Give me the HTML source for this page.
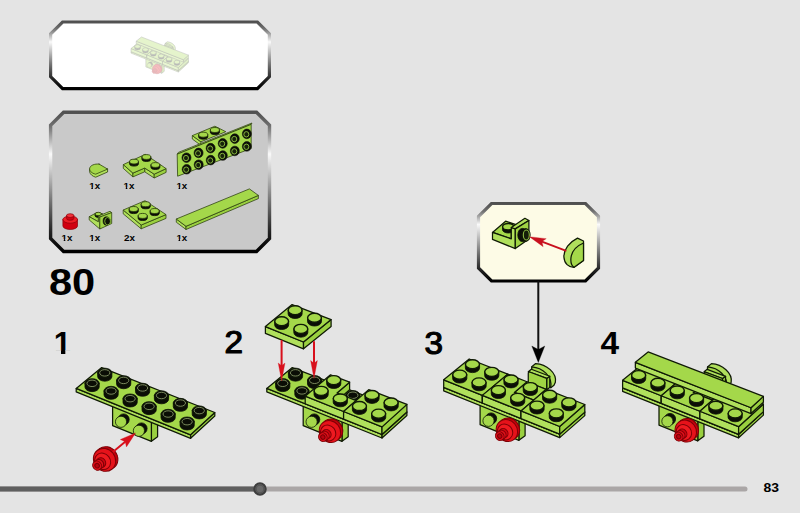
<!DOCTYPE html>
<html><head><meta charset="utf-8"><title>80</title>
<style>html,body{margin:0;padding:0;background:#e4e4e4;overflow:hidden}svg{display:block}text{font-family:"Liberation Sans",sans-serif}</style>
</head><body>
<svg width="800" height="513" viewBox="0 0 800 513">
<rect x="0" y="0" width="800" height="513" fill="#e4e4e4"/>
<linearGradient id="fg1" gradientUnits="userSpaceOnUse" x1="0" y1="22" x2="0" y2="88.6"><stop offset="0" stop-color="#505050"/><stop offset="0.10" stop-color="#707070"/><stop offset="0.3" stop-color="#fafafa"/><stop offset="0.62" stop-color="#7a7a7a"/><stop offset="0.86" stop-color="#222"/><stop offset="1" stop-color="#000"/></linearGradient>
<polygon points="62.6,22 257.4,22 269.4,34 269.4,76.6 257.4,88.6 62.6,88.6 50.6,76.6 50.6,34" fill="#ffffff" stroke="url(#fg1)" stroke-width="3.2" stroke-linejoin="miter"/>
<linearGradient id="fg2" gradientUnits="userSpaceOnUse" x1="0" y1="112.3" x2="0" y2="251.5"><stop offset="0" stop-color="#505050"/><stop offset="0.10" stop-color="#707070"/><stop offset="0.3" stop-color="#fafafa"/><stop offset="0.62" stop-color="#7a7a7a"/><stop offset="0.86" stop-color="#222"/><stop offset="1" stop-color="#000"/></linearGradient>
<polygon points="63.6,112.3 256.5,112.3 269.5,125.3 269.5,238.5 256.5,251.5 63.6,251.5 50.6,238.5 50.6,125.3" fill="#c9c9c9" stroke="url(#fg2)" stroke-width="3.4" stroke-linejoin="miter"/>
<linearGradient id="fg3" gradientUnits="userSpaceOnUse" x1="0" y1="203.5" x2="0" y2="281"><stop offset="0" stop-color="#505050"/><stop offset="0.10" stop-color="#707070"/><stop offset="0.27" stop-color="#fafafa"/><stop offset="0.62" stop-color="#7a7a7a"/><stop offset="0.86" stop-color="#222"/><stop offset="1" stop-color="#000"/></linearGradient>
<polygon points="491.5,203.5 585.5,203.5 598.5,216.5 598.5,268 585.5,281 491.5,281 478.5,268 478.5,216.5" fill="#fdfbe6" stroke="url(#fg3)" stroke-width="3.2" stroke-linejoin="miter"/>
<text transform="translate(49 295.3) scale(1.13 1)" font-size="36.8" font-weight="bold" text-anchor="start" fill="#000">80</text>
<clipPath id="c1_1"><polygon points="51.8,322.9 178.6,322.9 178.6,363.46 71.15,363.46 71.15,350.22 65.34,350.22 65.34,355.1 60.98,355.1 60.98,350.22 51.8,350.22"/></clipPath>
<g clip-path="url(#c1_1)">
<text transform="translate(53.8 354.1) scale(1 1)" font-size="31.2" font-weight="bold" text-anchor="start" fill="#000">1</text>
</g>
<text transform="translate(224.4 353.3) scale(1.08 1)" font-size="30.8" font-weight="normal" text-anchor="start" fill="#000" stroke="#000" stroke-width="1.15" stroke-linejoin="round">2</text>
<text transform="translate(424.6 353.5) scale(1.08 1)" font-size="30.8" font-weight="normal" text-anchor="start" fill="#000" stroke="#000" stroke-width="1.15" stroke-linejoin="round">3</text>
<text transform="translate(600.4 354) scale(1.07 1)" font-size="31.2" font-weight="bold" text-anchor="start" fill="#000">4</text>
<text transform="translate(763.4 491.9) scale(1.04 1)" font-size="13.4" font-weight="bold" text-anchor="start" fill="#000">83</text>
<line x1="-3" y1="489" x2="745" y2="489" stroke="#aaa6a6" stroke-width="5" stroke-linecap="round"/>
<line x1="-3" y1="489" x2="258" y2="489" stroke="#5f5f5f" stroke-width="5"/>
<circle cx="260" cy="489" r="5.7" fill="#666" stroke="#3e3e3e" stroke-width="2.1"/>
<circle cx="260" cy="489" r="3.9" fill="#696969" stroke="#4a4a4a" stroke-width="0.7"/>
<polygon points="151.4,419 157.6,414.5 157.6,436.7 151.4,441.3" fill="#9ad040" stroke="#101a06" stroke-width="1.25" stroke-linejoin="round" />
<polygon points="112.6,403 112.6,425.7 151.4,441.3 151.4,419" fill="#a4d84a" stroke="#101a06" stroke-width="1.25" stroke-linejoin="round" />
<circle cx="123.6" cy="419.5" r="5.6" fill="#0b0e06" stroke="#0b0e06" stroke-width="0.8"/>
<circle cx="121" cy="421.8" r="5.6" fill="#a4d84a" stroke="#101a06" stroke-width="0.8"/>
<circle cx="141.5" cy="428.5" r="5.6" fill="#0b0e06" stroke="#0b0e06" stroke-width="0.8"/>
<circle cx="138.9" cy="430.8" r="5.6" fill="#a4d84a" stroke="#101a06" stroke-width="0.8"/>
<polygon points="76.2,388.4 190.6,434.8 190.6,438.3 76.2,391.9" fill="#aee05a" stroke="#101a06" stroke-width="1.25" stroke-linejoin="round" />
<polygon points="214.8,412.5 190.6,434.8 190.6,438.3 214.8,416" fill="#9ad040" stroke="#101a06" stroke-width="1.25" stroke-linejoin="round" />
<polygon points="101.7,367.6 214.8,412.5 190.6,434.8 76.2,388.4" fill="#a4d84a" stroke="#101a06" stroke-width="1.25" stroke-linejoin="round" />
<path d="M97.68,372.77 L97.68,376.57 A7.1,4.6 0 0 0 111.88,376.57 L111.88,372.77 Z" fill="#0b0e06" stroke="#0b0e06" stroke-width="0.8" stroke-linejoin="round" stroke-linecap="round" />
<ellipse cx="104.78" cy="372.77" rx="7.1" ry="4.6" fill="#0b0e06" stroke="#101a06" stroke-width="0.8" />
<ellipse cx="104.78" cy="372.87" rx="5.11" ry="3.22" fill="#0a0d05" stroke="#8e9f6c" stroke-width="0.85" />
<path d="M116.58,380.32 L116.58,384.12 A7.1,4.6 0 0 0 130.78,384.12 L130.78,380.32 Z" fill="#0b0e06" stroke="#0b0e06" stroke-width="0.8" stroke-linejoin="round" stroke-linecap="round" />
<ellipse cx="123.68" cy="380.32" rx="7.1" ry="4.6" fill="#0b0e06" stroke="#101a06" stroke-width="0.8" />
<ellipse cx="123.68" cy="380.42" rx="5.11" ry="3.22" fill="#0a0d05" stroke="#8e9f6c" stroke-width="0.85" />
<path d="M135.49,387.86 L135.49,391.66 A7.1,4.6 0 0 0 149.69,391.66 L149.69,387.86 Z" fill="#0b0e06" stroke="#0b0e06" stroke-width="0.8" stroke-linejoin="round" stroke-linecap="round" />
<ellipse cx="142.59" cy="387.86" rx="7.1" ry="4.6" fill="#0b0e06" stroke="#101a06" stroke-width="0.8" />
<ellipse cx="142.59" cy="387.96" rx="5.11" ry="3.22" fill="#0a0d05" stroke="#8e9f6c" stroke-width="0.85" />
<path d="M154.39,395.41 L154.39,399.21 A7.1,4.6 0 0 0 168.59,399.21 L168.59,395.41 Z" fill="#0b0e06" stroke="#0b0e06" stroke-width="0.8" stroke-linejoin="round" stroke-linecap="round" />
<ellipse cx="161.49" cy="395.41" rx="7.1" ry="4.6" fill="#0b0e06" stroke="#101a06" stroke-width="0.8" />
<ellipse cx="161.49" cy="395.51" rx="5.11" ry="3.22" fill="#0a0d05" stroke="#8e9f6c" stroke-width="0.85" />
<path d="M173.29,402.96 L173.29,406.76 A7.1,4.6 0 0 0 187.49,406.76 L187.49,402.96 Z" fill="#0b0e06" stroke="#0b0e06" stroke-width="0.8" stroke-linejoin="round" stroke-linecap="round" />
<ellipse cx="180.39" cy="402.96" rx="7.1" ry="4.6" fill="#0b0e06" stroke="#101a06" stroke-width="0.8" />
<ellipse cx="180.39" cy="403.06" rx="5.11" ry="3.22" fill="#0a0d05" stroke="#8e9f6c" stroke-width="0.85" />
<path d="M192.2,410.5 L192.2,414.3 A7.1,4.6 0 0 0 206.4,414.3 L206.4,410.5 Z" fill="#0b0e06" stroke="#0b0e06" stroke-width="0.8" stroke-linejoin="round" stroke-linecap="round" />
<ellipse cx="199.3" cy="410.5" rx="7.1" ry="4.6" fill="#0b0e06" stroke="#101a06" stroke-width="0.8" />
<ellipse cx="199.3" cy="410.6" rx="5.11" ry="3.22" fill="#0a0d05" stroke="#8e9f6c" stroke-width="0.85" />
<path d="M84.98,383.24 L84.98,387.04 A7.1,4.6 0 0 0 99.18,387.04 L99.18,383.24 Z" fill="#0b0e06" stroke="#0b0e06" stroke-width="0.8" stroke-linejoin="round" stroke-linecap="round" />
<ellipse cx="92.08" cy="383.24" rx="7.1" ry="4.6" fill="#0b0e06" stroke="#101a06" stroke-width="0.8" />
<ellipse cx="92.08" cy="383.34" rx="5.11" ry="3.22" fill="#0a0d05" stroke="#8e9f6c" stroke-width="0.85" />
<path d="M103.99,390.91 L103.99,394.71 A7.1,4.6 0 0 0 118.19,394.71 L118.19,390.91 Z" fill="#0b0e06" stroke="#0b0e06" stroke-width="0.8" stroke-linejoin="round" stroke-linecap="round" />
<ellipse cx="111.09" cy="390.91" rx="7.1" ry="4.6" fill="#0b0e06" stroke="#101a06" stroke-width="0.8" />
<ellipse cx="111.09" cy="391.01" rx="5.11" ry="3.22" fill="#0a0d05" stroke="#8e9f6c" stroke-width="0.85" />
<path d="M123.01,398.58 L123.01,402.38 A7.1,4.6 0 0 0 137.21,402.38 L137.21,398.58 Z" fill="#0b0e06" stroke="#0b0e06" stroke-width="0.8" stroke-linejoin="round" stroke-linecap="round" />
<ellipse cx="130.11" cy="398.58" rx="7.1" ry="4.6" fill="#0b0e06" stroke="#101a06" stroke-width="0.8" />
<ellipse cx="130.11" cy="398.68" rx="5.11" ry="3.22" fill="#0a0d05" stroke="#8e9f6c" stroke-width="0.85" />
<path d="M142.02,406.25 L142.02,410.05 A7.1,4.6 0 0 0 156.22,410.05 L156.22,406.25 Z" fill="#0b0e06" stroke="#0b0e06" stroke-width="0.8" stroke-linejoin="round" stroke-linecap="round" />
<ellipse cx="149.12" cy="406.25" rx="7.1" ry="4.6" fill="#0b0e06" stroke="#101a06" stroke-width="0.8" />
<ellipse cx="149.12" cy="406.35" rx="5.11" ry="3.22" fill="#0a0d05" stroke="#8e9f6c" stroke-width="0.85" />
<path d="M161.03,413.92 L161.03,417.72 A7.1,4.6 0 0 0 175.23,417.72 L175.23,413.92 Z" fill="#0b0e06" stroke="#0b0e06" stroke-width="0.8" stroke-linejoin="round" stroke-linecap="round" />
<ellipse cx="168.13" cy="413.92" rx="7.1" ry="4.6" fill="#0b0e06" stroke="#101a06" stroke-width="0.8" />
<ellipse cx="168.13" cy="414.02" rx="5.11" ry="3.22" fill="#0a0d05" stroke="#8e9f6c" stroke-width="0.85" />
<path d="M180.04,421.59 L180.04,425.39 A7.1,4.6 0 0 0 194.24,425.39 L194.24,421.59 Z" fill="#0b0e06" stroke="#0b0e06" stroke-width="0.8" stroke-linejoin="round" stroke-linecap="round" />
<ellipse cx="187.14" cy="421.59" rx="7.1" ry="4.6" fill="#0b0e06" stroke="#101a06" stroke-width="0.8" />
<ellipse cx="187.14" cy="421.69" rx="5.11" ry="3.22" fill="#0a0d05" stroke="#8e9f6c" stroke-width="0.85" />
<g stroke="#7d0006" stroke-width="1.0" stroke-linejoin="round">
<ellipse cx="106.73" cy="458.14" rx="10.71" ry="11.9" fill="#c4000c" transform="rotate(-38 106.73 458.14)"/>
<ellipse cx="104.53" cy="459.87" rx="10.71" ry="11.9" fill="#e6121a" transform="rotate(-38 104.53 459.87)"/>
<ellipse cx="102.64" cy="461.35" rx="7.71" ry="8.57" fill="#ee1a20" transform="rotate(-38 102.64 461.35)"/>
<ellipse cx="101.06" cy="462.58" rx="4.5" ry="5" fill="#cf0510" transform="rotate(-38 101.06 462.58)"/>
<ellipse cx="99.1" cy="464.12" rx="4.39" ry="4.88" fill="#e0101a" transform="rotate(-38 99.1 464.12)"/>
<ellipse cx="97.13" cy="465.66" rx="4.28" ry="4.76" fill="#dd0d18" transform="rotate(-38 97.13 465.66)"/>
<ellipse cx="97.13" cy="465.66" rx="2.14" ry="2.38" fill="#b80410" transform="rotate(-38 97.13 465.66)"/>
</g>
<line x1="113.5" y1="451.5" x2="125.19" y2="441.66" stroke="#d8101c" stroke-width="1.9" stroke-linecap="round" />
<polygon points="135.6,432.9 126.45,446.88 125.19,441.66 120.27,439.53" fill="#d8101c" stroke="#d8101c" stroke-width="0.3" stroke-linejoin="round" />
<polygon points="342,419 348.2,414.5 348.2,436.7 342,441.3" fill="#9ad040" stroke="#101a06" stroke-width="1.25" stroke-linejoin="round" />
<polygon points="303.2,403 303.2,425.7 342,441.3 342,419" fill="#a4d84a" stroke="#101a06" stroke-width="1.25" stroke-linejoin="round" />
<circle cx="314.2" cy="419.5" r="5.6" fill="#0b0e06" stroke="#0b0e06" stroke-width="0.8"/>
<circle cx="311.6" cy="421.8" r="5.6" fill="#a4d84a" stroke="#101a06" stroke-width="0.8"/>
<polygon points="266.8,388.4 382,434.5 382,438 266.8,391.9" fill="#b0e05c" stroke="#101a06" stroke-width="1.25" stroke-linejoin="round" />
<polygon points="406.9,412 382,434.5 382,438 406.9,415.5" fill="#9ad040" stroke="#101a06" stroke-width="1.25" stroke-linejoin="round" />
<polygon points="292.3,367.6 406.9,412 382,434.5 266.8,388.4" fill="#a4d84a" stroke="#101a06" stroke-width="1.25" stroke-linejoin="round" />
<path d="M288.39,372.74 L288.39,376.54 A7.1,4.6 0 0 0 302.59,376.54 L302.59,372.74 Z" fill="#0b0e06" stroke="#0b0e06" stroke-width="0.8" stroke-linejoin="round" stroke-linecap="round" />
<ellipse cx="295.49" cy="372.74" rx="7.1" ry="4.6" fill="#0b0e06" stroke="#101a06" stroke-width="0.8" />
<ellipse cx="295.49" cy="372.84" rx="5.11" ry="3.22" fill="#0a0d05" stroke="#8e9f6c" stroke-width="0.85" />
<path d="M307.51,380.21 L307.51,384.01 A7.1,4.6 0 0 0 321.71,384.01 L321.71,380.21 Z" fill="#0b0e06" stroke="#0b0e06" stroke-width="0.8" stroke-linejoin="round" stroke-linecap="round" />
<ellipse cx="314.61" cy="380.21" rx="7.1" ry="4.6" fill="#0b0e06" stroke="#101a06" stroke-width="0.8" />
<ellipse cx="314.61" cy="380.31" rx="5.11" ry="3.22" fill="#0a0d05" stroke="#8e9f6c" stroke-width="0.85" />
<path d="M345.76,395.15 L345.76,398.95 A7.1,4.6 0 0 0 359.96,398.95 L359.96,395.15 Z" fill="#0b0e06" stroke="#0b0e06" stroke-width="0.8" stroke-linejoin="round" stroke-linecap="round" />
<ellipse cx="352.86" cy="395.15" rx="7.1" ry="4.6" fill="#0b0e06" stroke="#101a06" stroke-width="0.8" />
<ellipse cx="352.86" cy="395.25" rx="5.11" ry="3.22" fill="#0a0d05" stroke="#8e9f6c" stroke-width="0.85" />
<path d="M275.66,383.21 L275.66,387.01 A7.1,4.6 0 0 0 289.86,387.01 L289.86,383.21 Z" fill="#0b0e06" stroke="#0b0e06" stroke-width="0.8" stroke-linejoin="round" stroke-linecap="round" />
<ellipse cx="282.76" cy="383.21" rx="7.1" ry="4.6" fill="#0b0e06" stroke="#101a06" stroke-width="0.8" />
<ellipse cx="282.76" cy="383.31" rx="5.11" ry="3.22" fill="#0a0d05" stroke="#8e9f6c" stroke-width="0.85" />
<path d="M294.84,390.82 L294.84,394.62 A7.1,4.6 0 0 0 309.04,394.62 L309.04,390.82 Z" fill="#0b0e06" stroke="#0b0e06" stroke-width="0.8" stroke-linejoin="round" stroke-linecap="round" />
<ellipse cx="301.94" cy="390.82" rx="7.1" ry="4.6" fill="#0b0e06" stroke="#101a06" stroke-width="0.8" />
<ellipse cx="301.94" cy="390.92" rx="5.11" ry="3.22" fill="#0a0d05" stroke="#8e9f6c" stroke-width="0.85" />
<g stroke="#7d0006" stroke-width="1.0" stroke-linejoin="round">
<ellipse cx="332.06" cy="429.9" rx="10.28" ry="11.42" fill="#c4000c" transform="rotate(-38 332.06 429.9)"/>
<ellipse cx="329.95" cy="431.55" rx="10.28" ry="11.42" fill="#e6121a" transform="rotate(-38 329.95 431.55)"/>
<ellipse cx="328.13" cy="432.97" rx="7.4" ry="8.23" fill="#ee1a20" transform="rotate(-38 328.13 432.97)"/>
<ellipse cx="326.62" cy="434.16" rx="4.32" ry="4.8" fill="#cf0510" transform="rotate(-38 326.62 434.16)"/>
<ellipse cx="324.73" cy="435.64" rx="4.22" ry="4.68" fill="#e0101a" transform="rotate(-38 324.73 435.64)"/>
<ellipse cx="322.84" cy="437.11" rx="4.11" ry="4.57" fill="#dd0d18" transform="rotate(-38 322.84 437.11)"/>
<ellipse cx="322.84" cy="437.11" rx="2.06" ry="2.28" fill="#b80410" transform="rotate(-38 322.84 437.11)"/>
</g>
<polygon points="349.6,382.2 337,393.02 337,400.62 349.6,389.8" fill="#9ad040" stroke="#101a06" stroke-width="1.25" stroke-linejoin="round" />
<polygon points="305.2,396.17 343.6,411.53 343.6,419.13 305.2,403.77" fill="#b0e05c" stroke="#101a06" stroke-width="1.25" stroke-linejoin="round" />
<polygon points="356.15,400.57 343.6,411.53 343.6,419.13 356.15,408.17" fill="#9ad040" stroke="#101a06" stroke-width="1.25" stroke-linejoin="round" />
<polygon points="330.5,374.8 349.6,382.2 337,393.02 356.15,400.57 343.6,411.53 305.2,396.17" fill="#a4d84a" stroke="#101a06" stroke-width="1.25" stroke-linejoin="round" />
<path d="M326.64,380.08 L326.64,383.88 A7.1,4.6 0 0 0 340.84,383.88 L340.84,380.08 Z" fill="#0b0e06" stroke="#0b0e06" stroke-width="0.8" stroke-linejoin="round" stroke-linecap="round" />
<ellipse cx="333.74" cy="380.08" rx="7" ry="4.5" fill="#a4d84a" stroke="#101a06" stroke-width="1.4" />
<path d="M314.01,390.83 L314.01,394.63 A7.1,4.6 0 0 0 328.21,394.63 L328.21,390.83 Z" fill="#0b0e06" stroke="#0b0e06" stroke-width="0.8" stroke-linejoin="round" stroke-linecap="round" />
<ellipse cx="321.11" cy="390.83" rx="7" ry="4.5" fill="#a4d84a" stroke="#101a06" stroke-width="1.4" />
<path d="M333.19,398.44 L333.19,402.24 A7.1,4.6 0 0 0 347.39,402.24 L347.39,398.44 Z" fill="#0b0e06" stroke="#0b0e06" stroke-width="0.8" stroke-linejoin="round" stroke-linecap="round" />
<ellipse cx="340.29" cy="398.44" rx="7" ry="4.5" fill="#a4d84a" stroke="#101a06" stroke-width="1.4" />
<polygon points="343.6,411.53 382,426.9 382,434.5 343.6,419.13" fill="#b0e05c" stroke="#101a06" stroke-width="1.25" stroke-linejoin="round" />
<polygon points="406.9,404.4 382,426.9 382,434.5 406.9,412" fill="#9ad040" stroke="#101a06" stroke-width="1.25" stroke-linejoin="round" />
<polygon points="368.7,389.6 406.9,404.4 382,426.9 343.6,411.53" fill="#a4d84a" stroke="#101a06" stroke-width="1.25" stroke-linejoin="round" />
<path d="M364.89,395.02 L364.89,398.82 A7.1,4.6 0 0 0 379.09,398.82 L379.09,395.02 Z" fill="#0b0e06" stroke="#0b0e06" stroke-width="0.8" stroke-linejoin="round" stroke-linecap="round" />
<ellipse cx="371.99" cy="395.02" rx="7" ry="4.5" fill="#a4d84a" stroke="#101a06" stroke-width="1.4" />
<path d="M384.01,402.49 L384.01,406.29 A7.1,4.6 0 0 0 398.21,406.29 L398.21,402.49 Z" fill="#0b0e06" stroke="#0b0e06" stroke-width="0.8" stroke-linejoin="round" stroke-linecap="round" />
<ellipse cx="391.11" cy="402.49" rx="7" ry="4.5" fill="#a4d84a" stroke="#101a06" stroke-width="1.4" />
<path d="M352.36,406.06 L352.36,409.86 A7.1,4.6 0 0 0 366.56,409.86 L366.56,406.06 Z" fill="#0b0e06" stroke="#0b0e06" stroke-width="0.8" stroke-linejoin="round" stroke-linecap="round" />
<ellipse cx="359.46" cy="406.06" rx="7" ry="4.5" fill="#a4d84a" stroke="#101a06" stroke-width="1.4" />
<path d="M371.54,413.67 L371.54,417.47 A7.1,4.6 0 0 0 385.74,417.47 L385.74,413.67 Z" fill="#0b0e06" stroke="#0b0e06" stroke-width="0.8" stroke-linejoin="round" stroke-linecap="round" />
<ellipse cx="378.64" cy="413.67" rx="7" ry="4.5" fill="#a4d84a" stroke="#101a06" stroke-width="1.4" />
<polygon points="265.4,326.6 303.5,342 303.5,348.8 265.4,333.4" fill="#b0e05c" stroke="#101a06" stroke-width="1.25" stroke-linejoin="round" />
<polygon points="331.1,319.6 303.5,342 303.5,348.8 331.1,326.4" fill="#9ad040" stroke="#101a06" stroke-width="1.25" stroke-linejoin="round" />
<polygon points="292.1,304.6 331.1,319.6 303.5,342 265.4,326.6" fill="#a4d84a" stroke="#101a06" stroke-width="1.25" stroke-linejoin="round" />
<path d="M288.12,310.18 L288.12,313.88 A7,4.6 0 0 0 302.12,313.88 L302.12,310.18 Z" fill="#0b0e06" stroke="#0b0e06" stroke-width="0.8" stroke-linejoin="round" stroke-linecap="round" />
<ellipse cx="295.12" cy="310.18" rx="6.9" ry="4.5" fill="#a4d84a" stroke="#101a06" stroke-width="1.4" />
<path d="M307.51,317.73 L307.51,321.43 A7,4.6 0 0 0 321.51,321.43 L321.51,317.73 Z" fill="#0b0e06" stroke="#0b0e06" stroke-width="0.8" stroke-linejoin="round" stroke-linecap="round" />
<ellipse cx="314.51" cy="317.73" rx="6.9" ry="4.5" fill="#a4d84a" stroke="#101a06" stroke-width="1.4" />
<path d="M274.66,321.23 L274.66,324.93 A7,4.6 0 0 0 288.66,324.93 L288.66,321.23 Z" fill="#0b0e06" stroke="#0b0e06" stroke-width="0.8" stroke-linejoin="round" stroke-linecap="round" />
<ellipse cx="281.66" cy="321.23" rx="6.9" ry="4.5" fill="#a4d84a" stroke="#101a06" stroke-width="1.4" />
<path d="M293.82,328.88 L293.82,332.57 A7,4.6 0 0 0 307.82,332.57 L307.82,328.88 Z" fill="#0b0e06" stroke="#0b0e06" stroke-width="0.8" stroke-linejoin="round" stroke-linecap="round" />
<ellipse cx="300.82" cy="328.88" rx="6.9" ry="4.5" fill="#a4d84a" stroke="#101a06" stroke-width="1.4" />
<line x1="281.6" y1="341" x2="281.6" y2="365.7" stroke="#d8101c" stroke-width="2" stroke-linecap="round" />
<polygon points="281.6,381 278.2,363 281.6,365.7 285,363" fill="#d8101c" stroke="#d8101c" stroke-width="0.3" stroke-linejoin="round" />
<line x1="314" y1="342" x2="314" y2="363.2" stroke="#d8101c" stroke-width="2" stroke-linecap="round" />
<polygon points="314,378.5 310.6,360.5 314,363.2 317.4,360.5" fill="#d8101c" stroke="#d8101c" stroke-width="0.3" stroke-linejoin="round" />
<polygon points="518.9,418 525.1,413.5 525.1,435.7 518.9,440.3" fill="#9ad040" stroke="#101a06" stroke-width="1.25" stroke-linejoin="round" />
<polygon points="480.1,402 480.1,424.7 518.9,440.3 518.9,418" fill="#a4d84a" stroke="#101a06" stroke-width="1.25" stroke-linejoin="round" />
<circle cx="491.1" cy="418.5" r="5.6" fill="#0b0e06" stroke="#0b0e06" stroke-width="0.8"/>
<circle cx="488.5" cy="420.8" r="5.6" fill="#a4d84a" stroke="#101a06" stroke-width="0.8"/>
<polygon points="443.7,387.4 559.7,434.1 559.7,437.6 443.7,390.9" fill="#b0e05c" stroke="#101a06" stroke-width="1.25" stroke-linejoin="round" />
<polygon points="584.8,412.1 559.7,434.1 559.7,437.6 584.8,415.6" fill="#9ad040" stroke="#101a06" stroke-width="1.25" stroke-linejoin="round" />
<polygon points="469.2,366.6 584.8,412.1 559.7,434.1 443.7,387.4" fill="#a4d84a" stroke="#101a06" stroke-width="1.25" stroke-linejoin="round" />
<g stroke="#7d0006" stroke-width="1.0" stroke-linejoin="round">
<ellipse cx="508.96" cy="428.9" rx="10.28" ry="11.42" fill="#c4000c" transform="rotate(-38 508.96 428.9)"/>
<ellipse cx="506.85" cy="430.55" rx="10.28" ry="11.42" fill="#e6121a" transform="rotate(-38 506.85 430.55)"/>
<ellipse cx="505.03" cy="431.97" rx="7.4" ry="8.23" fill="#ee1a20" transform="rotate(-38 505.03 431.97)"/>
<ellipse cx="503.52" cy="433.16" rx="4.32" ry="4.8" fill="#cf0510" transform="rotate(-38 503.52 433.16)"/>
<ellipse cx="501.63" cy="434.64" rx="4.22" ry="4.68" fill="#e0101a" transform="rotate(-38 501.63 434.64)"/>
<ellipse cx="499.74" cy="436.11" rx="4.11" ry="4.57" fill="#dd0d18" transform="rotate(-38 499.74 436.11)"/>
<ellipse cx="499.74" cy="436.11" rx="2.06" ry="2.28" fill="#b80410" transform="rotate(-38 499.74 436.11)"/>
</g>
<polygon points="443.7,379.8 482.37,395.37 482.37,402.97 443.7,387.4" fill="#b0e05c" stroke="#101a06" stroke-width="1.25" stroke-linejoin="round" />
<polygon points="507.73,374.17 482.37,395.37 482.37,402.97 507.73,381.77" fill="#9ad040" stroke="#101a06" stroke-width="1.25" stroke-linejoin="round" />
<polygon points="469.2,359 507.73,374.17 482.37,395.37 443.7,379.8" fill="#a4d84a" stroke="#101a06" stroke-width="1.25" stroke-linejoin="round" />
<path d="M465.37,364.22 L465.37,368.02 A7.1,4.6 0 0 0 479.57,368.02 L479.57,364.22 Z" fill="#0b0e06" stroke="#0b0e06" stroke-width="0.8" stroke-linejoin="round" stroke-linecap="round" />
<ellipse cx="472.47" cy="364.22" rx="7" ry="4.5" fill="#a4d84a" stroke="#101a06" stroke-width="1.4" />
<path d="M484.65,371.85 L484.65,375.65 A7.1,4.6 0 0 0 498.85,375.65 L498.85,371.85 Z" fill="#0b0e06" stroke="#0b0e06" stroke-width="0.8" stroke-linejoin="round" stroke-linecap="round" />
<ellipse cx="491.75" cy="371.85" rx="7" ry="4.5" fill="#a4d84a" stroke="#101a06" stroke-width="1.4" />
<path d="M452.63,374.67 L452.63,378.47 A7.1,4.6 0 0 0 466.83,378.47 L466.83,374.67 Z" fill="#0b0e06" stroke="#0b0e06" stroke-width="0.8" stroke-linejoin="round" stroke-linecap="round" />
<ellipse cx="459.73" cy="374.67" rx="7" ry="4.5" fill="#a4d84a" stroke="#101a06" stroke-width="1.4" />
<path d="M471.95,382.4 L471.95,386.2 A7.1,4.6 0 0 0 486.15,386.2 L486.15,382.4 Z" fill="#0b0e06" stroke="#0b0e06" stroke-width="0.8" stroke-linejoin="round" stroke-linecap="round" />
<ellipse cx="479.05" cy="382.4" rx="7" ry="4.5" fill="#a4d84a" stroke="#101a06" stroke-width="1.4" />
<path d="M531.77,366.85 L535.67,363.55 C546.47,364.25 556.97,372.75 555.37,382.25 L553.97,385.25 L550.77,387.65 L531.77,379.25 Z" fill="#b0e05c" stroke="#101a06" stroke-width="1.25" stroke-linejoin="round" stroke-linecap="round" />
<path d="M531.77,366.85 C542.47,367.75 552.47,375.75 550.77,387.65 L531.77,379.25 Z" fill="#a4d84a" stroke="#101a06" stroke-width="1.25" stroke-linejoin="round" stroke-linecap="round" />
<polygon points="546.67,378.45 549.77,376.25 549.77,387.45 546.67,389.65" fill="#9ad040" stroke="#101a06" stroke-width="1.25" stroke-linejoin="round" />
<polygon points="528.27,371.65 531.37,369.25 549.77,376.25 546.67,378.45" fill="#b0e05c" stroke="#101a06" stroke-width="1.25" stroke-linejoin="round" />
<path d="M528.27,373.45 Q528.27,371.45 530.27,372.25 L546.67,378.45 L546.67,389.65 L528.27,382.55 Z" fill="#a0d444" stroke="#101a06" stroke-width="1.25" stroke-linejoin="round" stroke-linecap="round" />
<polygon points="527,381.75 546.27,389.33 533.65,400.13 514.35,392.45" fill="#a4d84a" stroke="#101a06" stroke-width="1.25" stroke-linejoin="round" />
<path d="M523.22,387.12 L523.22,390.92 A7.1,4.6 0 0 0 537.42,390.92 L537.42,387.12 Z" fill="#0b0e06" stroke="#0b0e06" stroke-width="0.8" stroke-linejoin="round" stroke-linecap="round" />
<ellipse cx="530.32" cy="387.12" rx="7" ry="4.5" fill="#a4d84a" stroke="#101a06" stroke-width="1.4" />
<polygon points="482.37,395.37 521.03,410.93 521.03,418.53 482.37,402.97" fill="#b0e05c" stroke="#101a06" stroke-width="1.25" stroke-linejoin="round" />
<polygon points="533.65,400.13 521.03,410.93 521.03,418.53 533.65,407.73" fill="#9ad040" stroke="#101a06" stroke-width="1.25" stroke-linejoin="round" />
<polygon points="507.73,374.17 527,381.75 514.35,392.45 533.65,400.13 521.03,410.93 482.37,395.37" fill="#a4d84a" stroke="#101a06" stroke-width="1.25" stroke-linejoin="round" />
<path d="M503.93,379.48 L503.93,383.28 A7.1,4.6 0 0 0 518.13,383.28 L518.13,379.48 Z" fill="#0b0e06" stroke="#0b0e06" stroke-width="0.8" stroke-linejoin="round" stroke-linecap="round" />
<ellipse cx="511.03" cy="379.48" rx="7" ry="4.5" fill="#a4d84a" stroke="#101a06" stroke-width="1.4" />
<path d="M491.27,390.13 L491.27,393.93 A7.1,4.6 0 0 0 505.47,393.93 L505.47,390.13 Z" fill="#0b0e06" stroke="#0b0e06" stroke-width="0.8" stroke-linejoin="round" stroke-linecap="round" />
<ellipse cx="498.37" cy="390.13" rx="7" ry="4.5" fill="#a4d84a" stroke="#101a06" stroke-width="1.4" />
<path d="M510.58,397.87 L510.58,401.67 A7.1,4.6 0 0 0 524.78,401.67 L524.78,397.87 Z" fill="#0b0e06" stroke="#0b0e06" stroke-width="0.8" stroke-linejoin="round" stroke-linecap="round" />
<ellipse cx="517.68" cy="397.87" rx="7" ry="4.5" fill="#a4d84a" stroke="#101a06" stroke-width="1.4" />
<polygon points="521.03,410.93 559.7,426.5 559.7,434.1 521.03,418.53" fill="#b0e05c" stroke="#101a06" stroke-width="1.25" stroke-linejoin="round" />
<polygon points="584.8,404.5 559.7,426.5 559.7,434.1 584.8,412.1" fill="#9ad040" stroke="#101a06" stroke-width="1.25" stroke-linejoin="round" />
<polygon points="546.27,389.33 584.8,404.5 559.7,426.5 521.03,410.93" fill="#a4d84a" stroke="#101a06" stroke-width="1.25" stroke-linejoin="round" />
<path d="M542.5,394.75 L542.5,398.55 A7.1,4.6 0 0 0 556.7,398.55 L556.7,394.75 Z" fill="#0b0e06" stroke="#0b0e06" stroke-width="0.8" stroke-linejoin="round" stroke-linecap="round" />
<ellipse cx="549.6" cy="394.75" rx="7" ry="4.5" fill="#a4d84a" stroke="#101a06" stroke-width="1.4" />
<path d="M561.78,402.38 L561.78,406.18 A7.1,4.6 0 0 0 575.98,406.18 L575.98,402.38 Z" fill="#0b0e06" stroke="#0b0e06" stroke-width="0.8" stroke-linejoin="round" stroke-linecap="round" />
<ellipse cx="568.88" cy="402.38" rx="7" ry="4.5" fill="#a4d84a" stroke="#101a06" stroke-width="1.4" />
<path d="M529.9,405.6 L529.9,409.4 A7.1,4.6 0 0 0 544.1,409.4 L544.1,405.6 Z" fill="#0b0e06" stroke="#0b0e06" stroke-width="0.8" stroke-linejoin="round" stroke-linecap="round" />
<ellipse cx="537" cy="405.6" rx="7" ry="4.5" fill="#a4d84a" stroke="#101a06" stroke-width="1.4" />
<path d="M549.22,413.33 L549.22,417.13 A7.1,4.6 0 0 0 563.42,417.13 L563.42,413.33 Z" fill="#0b0e06" stroke="#0b0e06" stroke-width="0.8" stroke-linejoin="round" stroke-linecap="round" />
<ellipse cx="556.32" cy="413.33" rx="7" ry="4.5" fill="#a4d84a" stroke="#101a06" stroke-width="1.4" />
<line x1="538.3" y1="282" x2="538.3" y2="350" stroke="#111" stroke-width="2" stroke-linecap="round" />
<polygon points="538.3,362.5 531.8,346 538.3,349.5 544.8,346" fill="#000" stroke="#000" stroke-width="0.3" stroke-linejoin="round" />
<polygon points="697.8,418.5 704,414 704,436.2 697.8,440.8" fill="#9ad040" stroke="#101a06" stroke-width="1.25" stroke-linejoin="round" />
<polygon points="659,402.5 659,425.2 697.8,440.8 697.8,418.5" fill="#a4d84a" stroke="#101a06" stroke-width="1.25" stroke-linejoin="round" />
<circle cx="670" cy="419" r="5.6" fill="#0b0e06" stroke="#0b0e06" stroke-width="0.8"/>
<circle cx="667.4" cy="421.3" r="5.6" fill="#a4d84a" stroke="#101a06" stroke-width="0.8"/>
<polygon points="622.6,387.9 738.6,434.3 738.6,437.8 622.6,391.4" fill="#b0e05c" stroke="#101a06" stroke-width="1.25" stroke-linejoin="round" />
<polygon points="763.4,411.6 738.6,434.3 738.6,437.8 763.4,415.1" fill="#9ad040" stroke="#101a06" stroke-width="1.25" stroke-linejoin="round" />
<polygon points="648.1,367.1 763.4,411.6 738.6,434.3 622.6,387.9" fill="#a4d84a" stroke="#101a06" stroke-width="1.25" stroke-linejoin="round" />
<g stroke="#7d0006" stroke-width="1.0" stroke-linejoin="round">
<ellipse cx="687.86" cy="429.4" rx="10.28" ry="11.42" fill="#c4000c" transform="rotate(-38 687.86 429.4)"/>
<ellipse cx="685.75" cy="431.05" rx="10.28" ry="11.42" fill="#e6121a" transform="rotate(-38 685.75 431.05)"/>
<ellipse cx="683.93" cy="432.47" rx="7.4" ry="8.23" fill="#ee1a20" transform="rotate(-38 683.93 432.47)"/>
<ellipse cx="682.42" cy="433.66" rx="4.32" ry="4.8" fill="#cf0510" transform="rotate(-38 682.42 433.66)"/>
<ellipse cx="680.53" cy="435.14" rx="4.22" ry="4.68" fill="#e0101a" transform="rotate(-38 680.53 435.14)"/>
<ellipse cx="678.64" cy="436.61" rx="4.11" ry="4.57" fill="#dd0d18" transform="rotate(-38 678.64 436.61)"/>
<ellipse cx="678.64" cy="436.61" rx="2.06" ry="2.28" fill="#b80410" transform="rotate(-38 678.64 436.61)"/>
</g>
<polygon points="622.6,380.3 661.27,395.77 661.27,403.37 622.6,387.9" fill="#b0e05c" stroke="#101a06" stroke-width="1.25" stroke-linejoin="round" />
<polygon points="686.53,374.33 661.27,395.77 661.27,403.37 686.53,381.93" fill="#9ad040" stroke="#101a06" stroke-width="1.25" stroke-linejoin="round" />
<polygon points="648.1,359.5 686.53,374.33 661.27,395.77 622.6,380.3" fill="#a4d84a" stroke="#101a06" stroke-width="1.25" stroke-linejoin="round" />
<path d="M644.25,364.65 L644.25,368.45 A7.1,4.6 0 0 0 658.45,368.45 L658.45,364.65 Z" fill="#0b0e06" stroke="#0b0e06" stroke-width="0.8" stroke-linejoin="round" stroke-linecap="round" />
<ellipse cx="651.35" cy="364.65" rx="7" ry="4.5" fill="#a4d84a" stroke="#101a06" stroke-width="1.4" />
<path d="M663.49,372.14 L663.49,375.94 A7.1,4.6 0 0 0 677.69,375.94 L677.69,372.14 Z" fill="#0b0e06" stroke="#0b0e06" stroke-width="0.8" stroke-linejoin="round" stroke-linecap="round" />
<ellipse cx="670.59" cy="372.14" rx="7" ry="4.5" fill="#a4d84a" stroke="#101a06" stroke-width="1.4" />
<path d="M631.53,375.13 L631.53,378.93 A7.1,4.6 0 0 0 645.73,378.93 L645.73,375.13 Z" fill="#0b0e06" stroke="#0b0e06" stroke-width="0.8" stroke-linejoin="round" stroke-linecap="round" />
<ellipse cx="638.63" cy="375.13" rx="7" ry="4.5" fill="#a4d84a" stroke="#101a06" stroke-width="1.4" />
<path d="M650.83,382.78 L650.83,386.58 A7.1,4.6 0 0 0 665.03,386.58 L665.03,382.78 Z" fill="#0b0e06" stroke="#0b0e06" stroke-width="0.8" stroke-linejoin="round" stroke-linecap="round" />
<ellipse cx="657.93" cy="382.78" rx="7" ry="4.5" fill="#a4d84a" stroke="#101a06" stroke-width="1.4" />
<path d="M707.56,366.94 L711.46,363.64 C722.26,364.34 732.76,372.84 731.16,382.34 L729.76,385.34 L726.56,387.74 L707.56,379.34 Z" fill="#b0e05c" stroke="#101a06" stroke-width="1.25" stroke-linejoin="round" stroke-linecap="round" />
<path d="M707.56,366.94 C718.26,367.84 728.26,375.84 726.56,387.74 L707.56,379.34 Z" fill="#a4d84a" stroke="#101a06" stroke-width="1.25" stroke-linejoin="round" stroke-linecap="round" />
<polygon points="722.46,378.54 725.56,376.34 725.56,387.54 722.46,389.74" fill="#9ad040" stroke="#101a06" stroke-width="1.25" stroke-linejoin="round" />
<polygon points="704.06,371.74 707.16,369.34 725.56,376.34 722.46,378.54" fill="#b0e05c" stroke="#101a06" stroke-width="1.25" stroke-linejoin="round" />
<path d="M704.06,373.54 Q704.06,371.54 706.06,372.34 L722.46,378.54 L722.46,389.74 L704.06,382.64 Z" fill="#a0d444" stroke="#101a06" stroke-width="1.25" stroke-linejoin="round" stroke-linecap="round" />
<polygon points="705.75,381.75 724.97,389.17 712.45,400.2 693.17,392.62" fill="#a4d84a" stroke="#101a06" stroke-width="1.25" stroke-linejoin="round" />
<path d="M701.99,387.14 L701.99,390.94 A7.1,4.6 0 0 0 716.19,390.94 L716.19,387.14 Z" fill="#0b0e06" stroke="#0b0e06" stroke-width="0.8" stroke-linejoin="round" stroke-linecap="round" />
<ellipse cx="709.09" cy="387.14" rx="7" ry="4.5" fill="#a4d84a" stroke="#101a06" stroke-width="1.4" />
<polygon points="661.27,395.77 699.93,411.23 699.93,418.83 661.27,403.37" fill="#b0e05c" stroke="#101a06" stroke-width="1.25" stroke-linejoin="round" />
<polygon points="712.45,400.2 699.93,411.23 699.93,418.83 712.45,407.8" fill="#9ad040" stroke="#101a06" stroke-width="1.25" stroke-linejoin="round" />
<polygon points="686.53,374.33 705.75,381.75 693.17,392.62 712.45,400.2 699.93,411.23 661.27,395.77" fill="#a4d84a" stroke="#101a06" stroke-width="1.25" stroke-linejoin="round" />
<path d="M682.74,379.64 L682.74,383.44 A7.1,4.6 0 0 0 696.94,383.44 L696.94,379.64 Z" fill="#0b0e06" stroke="#0b0e06" stroke-width="0.8" stroke-linejoin="round" stroke-linecap="round" />
<ellipse cx="689.84" cy="379.64" rx="7" ry="4.5" fill="#a4d84a" stroke="#101a06" stroke-width="1.4" />
<path d="M670.14,390.44 L670.14,394.24 A7.1,4.6 0 0 0 684.34,394.24 L684.34,390.44 Z" fill="#0b0e06" stroke="#0b0e06" stroke-width="0.8" stroke-linejoin="round" stroke-linecap="round" />
<ellipse cx="677.24" cy="390.44" rx="7" ry="4.5" fill="#a4d84a" stroke="#101a06" stroke-width="1.4" />
<path d="M689.44,398.09 L689.44,401.89 A7.1,4.6 0 0 0 703.64,401.89 L703.64,398.09 Z" fill="#0b0e06" stroke="#0b0e06" stroke-width="0.8" stroke-linejoin="round" stroke-linecap="round" />
<ellipse cx="696.54" cy="398.09" rx="7" ry="4.5" fill="#a4d84a" stroke="#101a06" stroke-width="1.4" />
<polygon points="699.93,411.23 738.6,426.7 738.6,434.3 699.93,418.83" fill="#b0e05c" stroke="#101a06" stroke-width="1.25" stroke-linejoin="round" />
<polygon points="763.4,404 738.6,426.7 738.6,434.3 763.4,411.6" fill="#9ad040" stroke="#101a06" stroke-width="1.25" stroke-linejoin="round" />
<polygon points="724.97,389.17 763.4,404 738.6,426.7 699.93,411.23" fill="#a4d84a" stroke="#101a06" stroke-width="1.25" stroke-linejoin="round" />
<path d="M721.23,394.63 L721.23,398.43 A7.1,4.6 0 0 0 735.43,398.43 L735.43,394.63 Z" fill="#0b0e06" stroke="#0b0e06" stroke-width="0.8" stroke-linejoin="round" stroke-linecap="round" />
<ellipse cx="728.33" cy="394.63" rx="7" ry="4.5" fill="#a4d84a" stroke="#101a06" stroke-width="1.4" />
<path d="M740.48,402.13 L740.48,405.93 A7.1,4.6 0 0 0 754.68,405.93 L754.68,402.13 Z" fill="#0b0e06" stroke="#0b0e06" stroke-width="0.8" stroke-linejoin="round" stroke-linecap="round" />
<ellipse cx="747.58" cy="402.13" rx="7" ry="4.5" fill="#a4d84a" stroke="#101a06" stroke-width="1.4" />
<path d="M708.74,405.74 L708.74,409.54 A7.1,4.6 0 0 0 722.94,409.54 L722.94,405.74 Z" fill="#0b0e06" stroke="#0b0e06" stroke-width="0.8" stroke-linejoin="round" stroke-linecap="round" />
<ellipse cx="715.84" cy="405.74" rx="7" ry="4.5" fill="#a4d84a" stroke="#101a06" stroke-width="1.4" />
<path d="M728.05,413.4 L728.05,417.2 A7.1,4.6 0 0 0 742.25,417.2 L742.25,413.4 Z" fill="#0b0e06" stroke="#0b0e06" stroke-width="0.8" stroke-linejoin="round" stroke-linecap="round" />
<ellipse cx="735.15" cy="413.4" rx="7" ry="4.5" fill="#a4d84a" stroke="#101a06" stroke-width="1.4" />
<polygon points="635.35,362.3 751,407.75 751,413.55 635.35,368.1" fill="#b0e05c" stroke="#101a06" stroke-width="1.25" stroke-linejoin="round" />
<polygon points="763.4,396.4 751,407.75 751,413.55 763.4,402.2" fill="#9ad040" stroke="#101a06" stroke-width="1.25" stroke-linejoin="round" />
<polygon points="648.1,351.9 763.4,396.4 751,407.75 635.35,362.3" fill="#a4d84a" stroke="#101a06" stroke-width="1.25" stroke-linejoin="round" />
<g opacity="0.28" transform="translate(-123.0 -106.6) scale(0.408)">
<polygon points="697.8,418.5 704,414 704,436.2 697.8,440.8" fill="#9ad040" stroke="#101a06" stroke-width="1.25" stroke-linejoin="round" />
<polygon points="659,402.5 659,425.2 697.8,440.8 697.8,418.5" fill="#a4d84a" stroke="#101a06" stroke-width="1.25" stroke-linejoin="round" />
<circle cx="670" cy="419" r="5.6" fill="#0b0e06" stroke="#0b0e06" stroke-width="0.8"/>
<circle cx="667.4" cy="421.3" r="5.6" fill="#a4d84a" stroke="#101a06" stroke-width="0.8"/>
<polygon points="622.6,387.9 738.6,434.3 738.6,437.8 622.6,391.4" fill="#b0e05c" stroke="#101a06" stroke-width="1.25" stroke-linejoin="round" />
<polygon points="763.4,411.6 738.6,434.3 738.6,437.8 763.4,415.1" fill="#9ad040" stroke="#101a06" stroke-width="1.25" stroke-linejoin="round" />
<polygon points="648.1,367.1 763.4,411.6 738.6,434.3 622.6,387.9" fill="#a4d84a" stroke="#101a06" stroke-width="1.25" stroke-linejoin="round" />
<g stroke="#7d0006" stroke-width="1.0" stroke-linejoin="round">
<ellipse cx="687.86" cy="429.4" rx="10.28" ry="11.42" fill="#c4000c" transform="rotate(-38 687.86 429.4)"/>
<ellipse cx="685.75" cy="431.05" rx="10.28" ry="11.42" fill="#e6121a" transform="rotate(-38 685.75 431.05)"/>
<ellipse cx="683.93" cy="432.47" rx="7.4" ry="8.23" fill="#ee1a20" transform="rotate(-38 683.93 432.47)"/>
<ellipse cx="682.42" cy="433.66" rx="4.32" ry="4.8" fill="#cf0510" transform="rotate(-38 682.42 433.66)"/>
<ellipse cx="680.53" cy="435.14" rx="4.22" ry="4.68" fill="#e0101a" transform="rotate(-38 680.53 435.14)"/>
<ellipse cx="678.64" cy="436.61" rx="4.11" ry="4.57" fill="#dd0d18" transform="rotate(-38 678.64 436.61)"/>
<ellipse cx="678.64" cy="436.61" rx="2.06" ry="2.28" fill="#b80410" transform="rotate(-38 678.64 436.61)"/>
</g>
<polygon points="622.6,380.3 661.27,395.77 661.27,403.37 622.6,387.9" fill="#b0e05c" stroke="#101a06" stroke-width="1.25" stroke-linejoin="round" />
<polygon points="686.53,374.33 661.27,395.77 661.27,403.37 686.53,381.93" fill="#9ad040" stroke="#101a06" stroke-width="1.25" stroke-linejoin="round" />
<polygon points="648.1,359.5 686.53,374.33 661.27,395.77 622.6,380.3" fill="#a4d84a" stroke="#101a06" stroke-width="1.25" stroke-linejoin="round" />
<path d="M644.25,364.65 L644.25,368.45 A7.1,4.6 0 0 0 658.45,368.45 L658.45,364.65 Z" fill="#0b0e06" stroke="#0b0e06" stroke-width="0.8" stroke-linejoin="round" stroke-linecap="round" />
<ellipse cx="651.35" cy="364.65" rx="7" ry="4.5" fill="#a4d84a" stroke="#101a06" stroke-width="1.4" />
<path d="M663.49,372.14 L663.49,375.94 A7.1,4.6 0 0 0 677.69,375.94 L677.69,372.14 Z" fill="#0b0e06" stroke="#0b0e06" stroke-width="0.8" stroke-linejoin="round" stroke-linecap="round" />
<ellipse cx="670.59" cy="372.14" rx="7" ry="4.5" fill="#a4d84a" stroke="#101a06" stroke-width="1.4" />
<path d="M631.53,375.13 L631.53,378.93 A7.1,4.6 0 0 0 645.73,378.93 L645.73,375.13 Z" fill="#0b0e06" stroke="#0b0e06" stroke-width="0.8" stroke-linejoin="round" stroke-linecap="round" />
<ellipse cx="638.63" cy="375.13" rx="7" ry="4.5" fill="#a4d84a" stroke="#101a06" stroke-width="1.4" />
<path d="M650.83,382.78 L650.83,386.58 A7.1,4.6 0 0 0 665.03,386.58 L665.03,382.78 Z" fill="#0b0e06" stroke="#0b0e06" stroke-width="0.8" stroke-linejoin="round" stroke-linecap="round" />
<ellipse cx="657.93" cy="382.78" rx="7" ry="4.5" fill="#a4d84a" stroke="#101a06" stroke-width="1.4" />
<path d="M707.56,366.94 L711.46,363.64 C722.26,364.34 732.76,372.84 731.16,382.34 L729.76,385.34 L726.56,387.74 L707.56,379.34 Z" fill="#b0e05c" stroke="#101a06" stroke-width="1.25" stroke-linejoin="round" stroke-linecap="round" />
<path d="M707.56,366.94 C718.26,367.84 728.26,375.84 726.56,387.74 L707.56,379.34 Z" fill="#a4d84a" stroke="#101a06" stroke-width="1.25" stroke-linejoin="round" stroke-linecap="round" />
<polygon points="722.46,378.54 725.56,376.34 725.56,387.54 722.46,389.74" fill="#9ad040" stroke="#101a06" stroke-width="1.25" stroke-linejoin="round" />
<polygon points="704.06,371.74 707.16,369.34 725.56,376.34 722.46,378.54" fill="#b0e05c" stroke="#101a06" stroke-width="1.25" stroke-linejoin="round" />
<path d="M704.06,373.54 Q704.06,371.54 706.06,372.34 L722.46,378.54 L722.46,389.74 L704.06,382.64 Z" fill="#a0d444" stroke="#101a06" stroke-width="1.25" stroke-linejoin="round" stroke-linecap="round" />
<polygon points="705.75,381.75 724.97,389.17 712.45,400.2 693.17,392.62" fill="#a4d84a" stroke="#101a06" stroke-width="1.25" stroke-linejoin="round" />
<path d="M701.99,387.14 L701.99,390.94 A7.1,4.6 0 0 0 716.19,390.94 L716.19,387.14 Z" fill="#0b0e06" stroke="#0b0e06" stroke-width="0.8" stroke-linejoin="round" stroke-linecap="round" />
<ellipse cx="709.09" cy="387.14" rx="7" ry="4.5" fill="#a4d84a" stroke="#101a06" stroke-width="1.4" />
<polygon points="661.27,395.77 699.93,411.23 699.93,418.83 661.27,403.37" fill="#b0e05c" stroke="#101a06" stroke-width="1.25" stroke-linejoin="round" />
<polygon points="712.45,400.2 699.93,411.23 699.93,418.83 712.45,407.8" fill="#9ad040" stroke="#101a06" stroke-width="1.25" stroke-linejoin="round" />
<polygon points="686.53,374.33 705.75,381.75 693.17,392.62 712.45,400.2 699.93,411.23 661.27,395.77" fill="#a4d84a" stroke="#101a06" stroke-width="1.25" stroke-linejoin="round" />
<path d="M682.74,379.64 L682.74,383.44 A7.1,4.6 0 0 0 696.94,383.44 L696.94,379.64 Z" fill="#0b0e06" stroke="#0b0e06" stroke-width="0.8" stroke-linejoin="round" stroke-linecap="round" />
<ellipse cx="689.84" cy="379.64" rx="7" ry="4.5" fill="#a4d84a" stroke="#101a06" stroke-width="1.4" />
<path d="M670.14,390.44 L670.14,394.24 A7.1,4.6 0 0 0 684.34,394.24 L684.34,390.44 Z" fill="#0b0e06" stroke="#0b0e06" stroke-width="0.8" stroke-linejoin="round" stroke-linecap="round" />
<ellipse cx="677.24" cy="390.44" rx="7" ry="4.5" fill="#a4d84a" stroke="#101a06" stroke-width="1.4" />
<path d="M689.44,398.09 L689.44,401.89 A7.1,4.6 0 0 0 703.64,401.89 L703.64,398.09 Z" fill="#0b0e06" stroke="#0b0e06" stroke-width="0.8" stroke-linejoin="round" stroke-linecap="round" />
<ellipse cx="696.54" cy="398.09" rx="7" ry="4.5" fill="#a4d84a" stroke="#101a06" stroke-width="1.4" />
<polygon points="699.93,411.23 738.6,426.7 738.6,434.3 699.93,418.83" fill="#b0e05c" stroke="#101a06" stroke-width="1.25" stroke-linejoin="round" />
<polygon points="763.4,404 738.6,426.7 738.6,434.3 763.4,411.6" fill="#9ad040" stroke="#101a06" stroke-width="1.25" stroke-linejoin="round" />
<polygon points="724.97,389.17 763.4,404 738.6,426.7 699.93,411.23" fill="#a4d84a" stroke="#101a06" stroke-width="1.25" stroke-linejoin="round" />
<path d="M721.23,394.63 L721.23,398.43 A7.1,4.6 0 0 0 735.43,398.43 L735.43,394.63 Z" fill="#0b0e06" stroke="#0b0e06" stroke-width="0.8" stroke-linejoin="round" stroke-linecap="round" />
<ellipse cx="728.33" cy="394.63" rx="7" ry="4.5" fill="#a4d84a" stroke="#101a06" stroke-width="1.4" />
<path d="M740.48,402.13 L740.48,405.93 A7.1,4.6 0 0 0 754.68,405.93 L754.68,402.13 Z" fill="#0b0e06" stroke="#0b0e06" stroke-width="0.8" stroke-linejoin="round" stroke-linecap="round" />
<ellipse cx="747.58" cy="402.13" rx="7" ry="4.5" fill="#a4d84a" stroke="#101a06" stroke-width="1.4" />
<path d="M708.74,405.74 L708.74,409.54 A7.1,4.6 0 0 0 722.94,409.54 L722.94,405.74 Z" fill="#0b0e06" stroke="#0b0e06" stroke-width="0.8" stroke-linejoin="round" stroke-linecap="round" />
<ellipse cx="715.84" cy="405.74" rx="7" ry="4.5" fill="#a4d84a" stroke="#101a06" stroke-width="1.4" />
<path d="M728.05,413.4 L728.05,417.2 A7.1,4.6 0 0 0 742.25,417.2 L742.25,413.4 Z" fill="#0b0e06" stroke="#0b0e06" stroke-width="0.8" stroke-linejoin="round" stroke-linecap="round" />
<ellipse cx="735.15" cy="413.4" rx="7" ry="4.5" fill="#a4d84a" stroke="#101a06" stroke-width="1.4" />
<polygon points="635.35,362.3 751,407.75 751,413.55 635.35,368.1" fill="#b0e05c" stroke="#101a06" stroke-width="1.25" stroke-linejoin="round" />
<polygon points="763.4,396.4 751,407.75 751,413.55 763.4,402.2" fill="#9ad040" stroke="#101a06" stroke-width="1.25" stroke-linejoin="round" />
<polygon points="648.1,351.9 763.4,396.4 751,407.75 635.35,362.3" fill="#a4d84a" stroke="#101a06" stroke-width="1.25" stroke-linejoin="round" />
</g>
<path d="M89.6,169.1 L89.6,171.9 C90.2,174.4 92.6,176.4 95.7,177.2 L107.6,172.0 L107.6,169.1 Z" fill="#b0e05c" stroke="#2a3c0c" stroke-width="0.75" stroke-linejoin="round" stroke-linecap="round" />
<path d="M99.1,164.1 L107.6,169.1 L95.7,174.2 C91.5,173.2 89.2,170.8 89.7,168.2 C90.3,165.3 94.5,163.6 99.1,164.1 Z" fill="#a4d84a" stroke="#2a3c0c" stroke-width="0.75" stroke-linejoin="round" stroke-linecap="round" />
<clipPath id="c1_2"><polygon points="87.2,179.1 128.4,179.1 128.4,191.84 94.65,191.84 94.65,187.27 92.93,187.27 92.93,189.9 91.35,189.9 91.35,187.27 87.2,187.27"/></clipPath>
<g clip-path="url(#c1_2)">
<text transform="translate(89.2 188.9) scale(1 1)" font-size="9.8" font-weight="bold" text-anchor="start" fill="#000">1x</text>
</g>
<polygon points="123.3,164.6 132.9,173.1 132.9,176.9 123.3,168.4" fill="#b0e05c" stroke="#2a3c0c" stroke-width="0.75" stroke-linejoin="round" />
<polygon points="144.7,168 154.2,174.2 154.2,178 144.7,171.8" fill="#b0e05c" stroke="#2a3c0c" stroke-width="0.75" stroke-linejoin="round" />
<polygon points="132.9,173.1 144.7,168 144.7,171.8 132.9,176.9" fill="#9ad040" stroke="#2a3c0c" stroke-width="0.75" stroke-linejoin="round" />
<polygon points="154.2,174.2 166.1,168.6 166.1,172.4 154.2,178" fill="#9ad040" stroke="#2a3c0c" stroke-width="0.75" stroke-linejoin="round" />
<polygon points="123.3,164.6 145.2,154.3 166.1,168.6 154.2,174.2 144.7,168 132.9,173.1" fill="#a4d84a" stroke="#2a3c0c" stroke-width="0.75" stroke-linejoin="round" />
<path d="M141.9,157 L141.9,159 A4.5,2.5 0 0 0 150.9,159 L150.9,157 Z" fill="#0b0e06" stroke="#0b0e06" stroke-width="0.8" stroke-linejoin="round" stroke-linecap="round" />
<ellipse cx="146.4" cy="157" rx="4.4" ry="2.4" fill="#a4d84a" stroke="#2a3c0c" stroke-width="0.84" />
<path d="M129.5,161.6 L129.5,163.6 A4.5,2.5 0 0 0 138.5,163.6 L138.5,161.6 Z" fill="#0b0e06" stroke="#0b0e06" stroke-width="0.8" stroke-linejoin="round" stroke-linecap="round" />
<ellipse cx="134" cy="161.6" rx="4.4" ry="2.4" fill="#a4d84a" stroke="#2a3c0c" stroke-width="0.84" />
<path d="M150.9,165 L150.9,167 A4.5,2.5 0 0 0 159.9,167 L159.9,165 Z" fill="#0b0e06" stroke="#0b0e06" stroke-width="0.8" stroke-linejoin="round" stroke-linecap="round" />
<ellipse cx="155.4" cy="165" rx="4.4" ry="2.4" fill="#a4d84a" stroke="#2a3c0c" stroke-width="0.84" />
<clipPath id="c1_3"><polygon points="121.6,179.1 162.8,179.1 162.8,191.84 129.05,191.84 129.05,187.27 127.33,187.27 127.33,189.9 125.75,189.9 125.75,187.27 121.6,187.27"/></clipPath>
<g clip-path="url(#c1_3)">
<text transform="translate(123.6 188.9) scale(1 1)" font-size="9.8" font-weight="bold" text-anchor="start" fill="#000">1x</text>
</g>
<polygon points="192.3,135.6 200.9,141.8 200.9,145.4 192.3,139" fill="#b0e05c" stroke="#2a3c0c" stroke-width="0.75" stroke-linejoin="round" />
<polygon points="192.3,135.6 214.9,126.2 225.8,131.7 200.9,141.8" fill="#a4d84a" stroke="#2a3c0c" stroke-width="0.75" stroke-linejoin="round" />
<path d="M198.6,134.7 L198.6,136.6 A4.6,2.6 0 0 0 207.8,136.6 L207.8,134.7 Z" fill="#0b0e06" stroke="#0b0e06" stroke-width="0.8" stroke-linejoin="round" stroke-linecap="round" />
<ellipse cx="203.2" cy="134.7" rx="4.5" ry="2.5" fill="#a4d84a" stroke="#2a3c0c" stroke-width="0.84" />
<path d="M210.3,130 L210.3,131.9 A4.6,2.6 0 0 0 219.5,131.9 L219.5,130 Z" fill="#0b0e06" stroke="#0b0e06" stroke-width="0.8" stroke-linejoin="round" stroke-linecap="round" />
<ellipse cx="214.9" cy="130" rx="4.5" ry="2.5" fill="#a4d84a" stroke="#2a3c0c" stroke-width="0.84" />
<polygon points="177.2,154.2 251.2,124.4 252,123 178.4,152.4" fill="#b0e05c" stroke="#2a3c0c" stroke-width="0.75" stroke-linejoin="round" />
<polygon points="177.2,154.2 251.2,124.4 251.2,148.5 177.6,176.2" fill="#a4d84a" stroke="#2a3c0c" stroke-width="0.75" stroke-linejoin="round" />
<ellipse cx="186.49" cy="157.68" rx="4.5" ry="4.8" fill="#0b0e06" stroke="#0b0e06" stroke-width="0.6" />
<ellipse cx="185.99" cy="158.08" rx="2.52" ry="2.69" fill="#18230a" stroke="#86b43e" stroke-width="1" />
<ellipse cx="186.68" cy="169.27" rx="4.5" ry="4.8" fill="#0b0e06" stroke="#0b0e06" stroke-width="0.6" />
<ellipse cx="186.18" cy="169.67" rx="2.52" ry="2.69" fill="#18230a" stroke="#86b43e" stroke-width="1" />
<ellipse cx="198.57" cy="152.92" rx="4.5" ry="4.8" fill="#0b0e06" stroke="#0b0e06" stroke-width="0.6" />
<ellipse cx="198.07" cy="153.32" rx="2.52" ry="2.69" fill="#18230a" stroke="#86b43e" stroke-width="1" />
<ellipse cx="198.71" cy="164.69" rx="4.5" ry="4.8" fill="#0b0e06" stroke="#0b0e06" stroke-width="0.6" />
<ellipse cx="198.21" cy="165.09" rx="2.52" ry="2.69" fill="#18230a" stroke="#86b43e" stroke-width="1" />
<ellipse cx="210.64" cy="148.16" rx="4.5" ry="4.8" fill="#0b0e06" stroke="#0b0e06" stroke-width="0.6" />
<ellipse cx="210.14" cy="148.56" rx="2.52" ry="2.69" fill="#18230a" stroke="#86b43e" stroke-width="1" />
<ellipse cx="210.75" cy="160.11" rx="4.5" ry="4.8" fill="#0b0e06" stroke="#0b0e06" stroke-width="0.6" />
<ellipse cx="210.25" cy="160.51" rx="2.52" ry="2.69" fill="#18230a" stroke="#86b43e" stroke-width="1" />
<ellipse cx="222.71" cy="143.41" rx="4.5" ry="4.8" fill="#0b0e06" stroke="#0b0e06" stroke-width="0.6" />
<ellipse cx="222.21" cy="143.81" rx="2.52" ry="2.69" fill="#18230a" stroke="#86b43e" stroke-width="1" />
<ellipse cx="222.79" cy="155.54" rx="4.5" ry="4.8" fill="#0b0e06" stroke="#0b0e06" stroke-width="0.6" />
<ellipse cx="222.29" cy="155.94" rx="2.52" ry="2.69" fill="#18230a" stroke="#86b43e" stroke-width="1" />
<ellipse cx="234.78" cy="138.65" rx="4.5" ry="4.8" fill="#0b0e06" stroke="#0b0e06" stroke-width="0.6" />
<ellipse cx="234.28" cy="139.05" rx="2.52" ry="2.69" fill="#18230a" stroke="#86b43e" stroke-width="1" />
<ellipse cx="234.82" cy="150.96" rx="4.5" ry="4.8" fill="#0b0e06" stroke="#0b0e06" stroke-width="0.6" />
<ellipse cx="234.32" cy="151.36" rx="2.52" ry="2.69" fill="#18230a" stroke="#86b43e" stroke-width="1" />
<ellipse cx="246.85" cy="133.89" rx="4.5" ry="4.8" fill="#0b0e06" stroke="#0b0e06" stroke-width="0.6" />
<ellipse cx="246.35" cy="134.29" rx="2.52" ry="2.69" fill="#18230a" stroke="#86b43e" stroke-width="1" />
<ellipse cx="246.86" cy="146.38" rx="4.5" ry="4.8" fill="#0b0e06" stroke="#0b0e06" stroke-width="0.6" />
<ellipse cx="246.36" cy="146.78" rx="2.52" ry="2.69" fill="#18230a" stroke="#86b43e" stroke-width="1" />
<clipPath id="c1_4"><polygon points="174.4,179.1 215.6,179.1 215.6,191.84 181.85,191.84 181.85,187.27 180.13,187.27 180.13,189.9 178.55,189.9 178.55,187.27 174.4,187.27"/></clipPath>
<g clip-path="url(#c1_4)">
<text transform="translate(176.4 188.9) scale(1 1)" font-size="9.8" font-weight="bold" text-anchor="start" fill="#000">1x</text>
</g>
<g stroke="#8a0008" stroke-width="0.7">
<path d="M62.9,219.6 L62.9,225.9 A7.3,3.6 0 0 0 77.5,225.9 L77.5,219.6 Z" fill="#d10010" stroke="#8a0008" stroke-width="0.7" stroke-linejoin="round" stroke-linecap="round" />
<ellipse cx="70.2" cy="219.6" rx="7.3" ry="3.6" fill="#ee1c24" stroke="#8a0008" stroke-width="0.7" />
<path d="M66.6,215.6 L66.6,218.4 A3.6,1.9 0 0 0 73.8,218.4 L73.8,215.6 Z" fill="#d10010" stroke="#8a0008" stroke-width="0.7" stroke-linejoin="round" stroke-linecap="round" />
<ellipse cx="70.2" cy="215.6" rx="3.6" ry="1.9" fill="#f2323a" stroke="#8a0008" stroke-width="0.7" />
</g>
<clipPath id="c1_5"><polygon points="59.6,230.8 100.8,230.8 100.8,243.54 67.05,243.54 67.05,238.97 65.33,238.97 65.33,241.6 63.75,241.6 63.75,238.97 59.6,238.97"/></clipPath>
<g clip-path="url(#c1_5)">
<text transform="translate(61.6 240.6) scale(1 1)" font-size="9.8" font-weight="bold" text-anchor="start" fill="#000">1x</text>
</g>
<polygon points="89.2,216.7 96.7,212.6 103,214 98.4,216 98.4,221.8" fill="#a4d84a" stroke="#2a3c0c" stroke-width="0.75" stroke-linejoin="round" />
<path d="M95,214 L95,215.6 A3.3,1.8 0 0 0 101.6,215.6 L101.6,214 Z" fill="#0b0e06" stroke="#0b0e06" stroke-width="0.8" stroke-linejoin="round" stroke-linecap="round" />
<ellipse cx="98.3" cy="214" rx="3.2" ry="1.7" fill="#a4d84a" stroke="#2a3c0c" stroke-width="0.84" />
<polygon points="89.2,216.7 98.4,221.8 98.4,216 99.8,217.1 99.8,229 89.2,219.9" fill="#b0e05c" stroke="#2a3c0c" stroke-width="0.75" stroke-linejoin="round" />
<polygon points="98.4,216 99.8,217.1 111.7,212.6 110,211.3" fill="#b0e05c" stroke="#2a3c0c" stroke-width="0.75" stroke-linejoin="round" />
<polygon points="99.8,217.1 111.7,212.6 111.7,223.5 99.8,229" fill="#a0d444" stroke="#2a3c0c" stroke-width="0.75" stroke-linejoin="round" />
<ellipse cx="106.5" cy="221" rx="3.4" ry="4.2" fill="#0b0e06" stroke="#0b0e06" stroke-width="0.6" />
<ellipse cx="107.6" cy="221.2" rx="2.9" ry="3.7" fill="#0d1305" stroke="#86b83c" stroke-width="0.9" />
<clipPath id="c1_6"><polygon points="87.2,230.8 128.4,230.8 128.4,243.54 94.65,243.54 94.65,238.97 92.93,238.97 92.93,241.6 91.35,241.6 91.35,238.97 87.2,238.97"/></clipPath>
<g clip-path="url(#c1_6)">
<text transform="translate(89.2 240.6) scale(1 1)" font-size="9.8" font-weight="bold" text-anchor="start" fill="#000">1x</text>
</g>
<polygon points="123.2,210 141.2,225 141.2,228.8 123.2,213.8" fill="#b0e05c" stroke="#2a3c0c" stroke-width="0.75" stroke-linejoin="round" />
<polygon points="166,214.6 141.2,225 141.2,228.8 166,218.4" fill="#9ad040" stroke="#2a3c0c" stroke-width="0.75" stroke-linejoin="round" />
<polygon points="145,200.7 166,214.6 141.2,225 123.2,210" fill="#a4d84a" stroke="#2a3c0c" stroke-width="0.75" stroke-linejoin="round" />
<path d="M141.1,204.2 L141.1,206.2 A4.6,2.6 0 0 0 150.3,206.2 L150.3,204.2 Z" fill="#0b0e06" stroke="#0b0e06" stroke-width="0.8" stroke-linejoin="round" stroke-linecap="round" />
<ellipse cx="145.7" cy="204.2" rx="4.5" ry="2.5" fill="#a4d84a" stroke="#2a3c0c" stroke-width="0.84" />
<path d="M129.1,209 L129.1,211 A4.6,2.6 0 0 0 138.3,211 L138.3,209 Z" fill="#0b0e06" stroke="#0b0e06" stroke-width="0.8" stroke-linejoin="round" stroke-linecap="round" />
<ellipse cx="133.7" cy="209" rx="4.5" ry="2.5" fill="#a4d84a" stroke="#2a3c0c" stroke-width="0.84" />
<path d="M150.1,211 L150.1,213 A4.6,2.6 0 0 0 159.3,213 L159.3,211 Z" fill="#0b0e06" stroke="#0b0e06" stroke-width="0.8" stroke-linejoin="round" stroke-linecap="round" />
<ellipse cx="154.7" cy="211" rx="4.5" ry="2.5" fill="#a4d84a" stroke="#2a3c0c" stroke-width="0.84" />
<path d="M138.1,215.9 L138.1,217.9 A4.6,2.6 0 0 0 147.3,217.9 L147.3,215.9 Z" fill="#0b0e06" stroke="#0b0e06" stroke-width="0.8" stroke-linejoin="round" stroke-linecap="round" />
<ellipse cx="142.7" cy="215.9" rx="4.5" ry="2.5" fill="#a4d84a" stroke="#2a3c0c" stroke-width="0.84" />
<text transform="translate(124 240.6) scale(1 1)" font-size="9.8" font-weight="bold" text-anchor="start" fill="#000">2x</text>
<polygon points="176.3,219 186,226.3 186,229.5 176.3,222.2" fill="#b0e05c" stroke="#2a3c0c" stroke-width="0.75" stroke-linejoin="round" />
<polygon points="258.4,195.4 186,226.3 186,229.5 258.4,198.6" fill="#9ad040" stroke="#2a3c0c" stroke-width="0.75" stroke-linejoin="round" />
<polygon points="249.4,188.9 258.4,195.4 186,226.3 176.3,219" fill="#a4d84a" stroke="#2a3c0c" stroke-width="0.75" stroke-linejoin="round" />
<clipPath id="c1_7"><polygon points="174.4,230.8 215.6,230.8 215.6,243.54 181.85,243.54 181.85,238.97 180.13,238.97 180.13,241.6 178.55,241.6 178.55,238.97 174.4,238.97"/></clipPath>
<g clip-path="url(#c1_7)">
<text transform="translate(176.4 240.6) scale(1 1)" font-size="9.8" font-weight="bold" text-anchor="start" fill="#000">1x</text>
</g>
<polygon points="492.5,232.4 505.6,221.2 516,224.6 511.3,227.5 511.3,238.9" fill="#a4d84a" stroke="#101a06" stroke-width="1.25" stroke-linejoin="round" />
<path d="M502.5,226.7 L502.5,229.7 A5.7,3.3 0 0 0 513.9,229.7 L513.9,226.7 Z" fill="#0b0e06" stroke="#0b0e06" stroke-width="0.8" stroke-linejoin="round" stroke-linecap="round" />
<ellipse cx="508.2" cy="226.7" rx="5.6" ry="3.2" fill="#a4d84a" stroke="#101a06" stroke-width="1.4" />
<polygon points="492.5,232.4 511.3,238.9 511.3,227.5 515.3,228.9 515.3,248.6 492.5,239.4" fill="#b0e05c" stroke="#101a06" stroke-width="1.25" stroke-linejoin="round" />
<polygon points="511.3,227.5 515.3,228.9 528.9,220.5 524.9,218.3" fill="#b0e05c" stroke="#101a06" stroke-width="1.25" stroke-linejoin="round" />
<polygon points="515.3,228.9 528.9,220.5 528.9,238.9 515.3,248.6" fill="#9fd343" stroke="#101a06" stroke-width="1.25" stroke-linejoin="round" />
<ellipse cx="522.4" cy="235" rx="4.6" ry="6.6" fill="#0b0e06" stroke="#0b0e06" stroke-width="0.8" />
<rect x="522.4" y="228.6" width="3.6" height="12.8" fill="#0b0e06"/>
<ellipse cx="526" cy="235" rx="4.2" ry="6.4" fill="#0b0e06" stroke="#101a06" stroke-width="0.8" />
<ellipse cx="526.3" cy="235" rx="3" ry="5" fill="#141d08" stroke="#8fbf45" stroke-width="1.1" />
<path d="M577.5,238.1 L583.5,241.0 L583.5,260.5 L574.1,267.3 C568.5,267.5 564.3,263.5 563.9,257.0 C563.6,249.5 569.5,242.0 577.5,238.1 Z" fill="#b0e05c" stroke="#101a06" stroke-width="1.25" stroke-linejoin="round" stroke-linecap="round" />
<path d="M583.5,243.0 L583.5,260.5 L574.1,267.3 C571.5,265.5 570.5,261.5 571.0,257.5 C571.8,251.5 576.5,246.0 583.5,243.0 Z" fill="#a4d84a" stroke="#101a06" stroke-width="1.25" stroke-linejoin="round" stroke-linecap="round" />
<line x1="565.6" y1="250.7" x2="541.92" y2="241.57" stroke="#c8101e" stroke-width="1.9" stroke-linecap="round" />
<polygon points="529.3,236.7 546.24,238.63 541.92,241.57 543.15,246.65" fill="#c8101e" stroke="#c8101e" stroke-width="0.3" stroke-linejoin="round" />
</svg>
</body></html>
